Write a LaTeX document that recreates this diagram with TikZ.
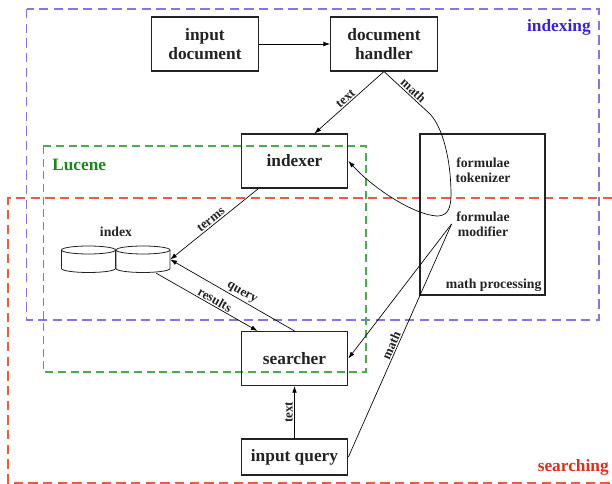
\documentclass[tikz,border=0pt]{standalone}
\usepackage{fontspec}
\setmainfont{Liberation Serif}
\usetikzlibrary{arrows.meta, calc}
\definecolor{idxblue}{RGB}{128,118,240}
\definecolor{idxtext}{RGB}{55,35,215}
\definecolor{srchred}{RGB}{236,90,66}
\definecolor{srchtext}{RGB}{226,45,25}
\definecolor{lucgreen}{RGB}{70,175,70}
\definecolor{luctext}{RGB}{28,135,28}
\definecolor{ink}{RGB}{35,35,35}

\begin{document}
\begin{tikzpicture}[
  x=0.75pt, y=-0.75pt,
  >={Latex[length=5pt, width=3.5pt]},
  every node/.style={text=ink, font=\bfseries},
  unit/.style={draw=ink, line width=0.8pt, minimum width=80pt, minimum height=40.5pt,
    align=center, font=\fontsize{13}{14}\selectfont\bfseries},
  small/.style={font=\fontsize{10.3}{11.5}\selectfont\bfseries, align=center},
  flow/.style={->, line width=0.5pt},
  tag/.style={font=\fontsize{9.8}{10}\selectfont\bfseries, sloped, above, inner sep=1pt},
  region/.style={line width=0.8pt, dash pattern=on 7pt off 4pt},
  regionlbl/.style={font=\fontsize{13}{14}\selectfont\bfseries, inner sep=0pt},
]
\useasboundingbox (0,0) rectangle (612,484);

% Regions
\draw[region, idxblue] (26.5,9) rectangle (599,320);
\node[regionlbl, text=idxtext, anchor=east] (indexing) at (591,27) {indexing};
\draw[region, srchred] (612,198) -- (8,198) -- (8,483) -- (612,483);
\node[regionlbl, text=srchtext, anchor=east] (searching) at (609,467) {searching};
\draw[region, lucgreen, dash pattern=on 6pt off 3.5pt] (43.3,146) rectangle (366,372);
\node[regionlbl, text=luctext, anchor=west] (lucene) at (52,165) {Lucene};

% Processing units
\node[unit] (indoc) at (205,44) {input\\document};
\node[unit] (handler) at (384,44) {document\\handler};
\node[unit] (indexer) at (294.5,161) {indexer};
\node[unit] (searcher) at (294.5,358.5) {searcher};
\node[unit, minimum height=27pt] (query) at (294.5,457) {input query};

% Math processing
\node[draw=ink, line width=0.8pt, minimum width=93.75pt, minimum height=120.75pt] (mathproc) at (482.5,214.5) {};
\node[small, anchor=south east, inner sep=0pt] (mathlbl) at (541.7,292) {math processing};
\node[small] (tokenizer) at (483,170) {formulae\\tokenizer};
\node[small] (modifier) at (483,224) {formulae\\modifier};

% Index store
\node[minimum width=81.75pt, minimum height=20.25pt, inner sep=0pt] (index) at (115.5,259.5) {};
\foreach \cx in {88.5,143} {
  \draw[ink, line width=0.6pt] (\cx-27,250) -- (\cx-27,268.5)
    arc[start angle=180, end angle=0, x radius=27, y radius=4] -- (\cx+27,250);
  \draw[ink, line width=0.6pt] (\cx,250) ellipse[x radius=27, y radius=4];
}
\node[small] (indexlbl) at (116,232) {index};

% Indexing flow
\draw[flow] (indoc) -- (handler);
\draw[flow] (handler.south) -- node[tag, pos=0.5] {text} ($(indexer.north)+(20,0)$);
\draw[flow] (handler.south) -- node[tag, pos=0.55] {math} (430,114)
  .. controls (443,128) and (451,160) .. (451,195)
  .. controls (451,212) and (445,216) .. (437,216)
  .. controls (415,215) and (375,190) .. (indexer.east);
\draw[flow] ($(indexer.south)+(-36,0)$) -- node[tag, pos=0.5] {terms} (index.east);

% Searching flow
\draw[flow] (searcher.north) -- node[tag, pos=0.45] {query} (index.east);
\draw[flow] ($(index.south east)+(-14,0)$) -- node[tag, pos=0.55] {results} ($(searcher.north)+(-37,0)$);
\draw[flow] (query) -- node[tag, pos=0.5] {text} (searcher);
\draw[line width=0.5pt] (query.east) -- node[tag, pos=0.47] {math} (modifier.west);
\draw[flow] (modifier.west) -- (searcher.east);

\end{tikzpicture}
\end{document}
